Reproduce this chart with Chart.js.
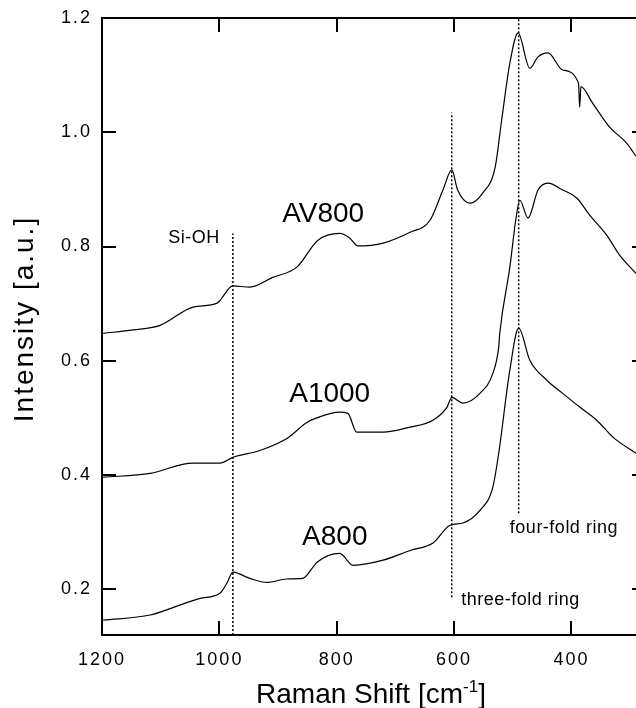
<!DOCTYPE html>
<html>
<head>
<meta charset="utf-8">
<script src="https://cdn.jsdelivr.net/npm/chart.js@4.4.0/dist/chart.umd.min.js"></script>
<style>
    html, body { margin: 0; padding: 0; background: #fff; overflow: hidden; }
    #wrap { width: 650px; height: 708px; }
</style>
</head>
<body>
<div id="wrap"><canvas id="graficoRaman" width="650" height="708"></canvas></div>
<script>
// Raman shift (cm-1) and intensity
var shiftAV800 = [1198, 1147, 1101, 1045, 1004, 977, 948, 909, 868, 832, 795, 778, 764, 721, 675, 641, 619, 604, 594, 573, 551, 530, 519, 505, 491, 471, 457, 440, 415, 388, 386, 384, 364, 335, 306, 290];
var intAV800 = [0.648, 0.654, 0.662, 0.694, 0.701, 0.731, 0.729, 0.746, 0.764, 0.811, 0.823, 0.815, 0.801, 0.806, 0.825, 0.846, 0.899, 0.934, 0.899, 0.876, 0.894, 0.939, 1.021, 1.121, 1.174, 1.112, 1.132, 1.139, 1.109, 1.086, 1.044, 1.080, 1.051, 1.009, 0.981, 0.958];

var shiftA1000 = [1198, 1118, 1045, 999, 977, 931, 885, 851, 834, 795, 781, 766, 721, 675, 636, 612, 604, 585, 556, 534, 524, 522, 505, 495, 488, 474, 457, 440, 415, 391, 369, 340, 318, 290];
var intA1000 = [0.396, 0.403, 0.421, 0.421, 0.431, 0.443, 0.464, 0.492, 0.500, 0.510, 0.508, 0.475, 0.475, 0.484, 0.496, 0.519, 0.536, 0.526, 0.543, 0.578, 0.624, 0.650, 0.764, 0.846, 0.881, 0.850, 0.899, 0.911, 0.899, 0.885, 0.855, 0.820, 0.785, 0.753];

var shiftA800 = [1198, 1118, 1079, 1033, 999, 987, 977, 948, 919, 885, 858, 841, 834, 795, 772, 721, 675, 636, 607, 585, 556, 534, 524, 505, 490, 471, 442, 415, 386, 357, 329, 290];
var intA800 = [0.146, 0.155, 0.168, 0.184, 0.193, 0.211, 0.230, 0.219, 0.212, 0.218, 0.219, 0.238, 0.247, 0.263, 0.242, 0.251, 0.268, 0.281, 0.312, 0.316, 0.338, 0.379, 0.438, 0.584, 0.657, 0.601, 0.566, 0.543, 0.519, 0.496, 0.466, 0.438];

// dotted marker lines
var markerShift = [977, 604, 490];
var markerTop = [0.823, 1.034, 1.2];
var markerBottom = [0.12, 0.186, 0.333];

// sample names
var sampleNames = ['AV800', 'A1000', 'A800'];
var sampleX = [893, 881, 859];
var sampleY = [0.843, 0.527, 0.277];

// band notes
var bandNames = ['Si-OH', 'three-fold ring', 'four-fold ring'];
var bandX = [1087, 588, 505];
var bandY = [0.806, 0.172, 0.298];

var xTicks = [1200, 1000, 800, 600, 400];
var yTicks = [0.2, 0.4, 0.6, 0.8, 1.0, 1.2];

var fonte = "'Liberation Sans', Arial, Helvetica, sans-serif";

function MontarPontos(xs, ys) {
    var pontos = [];
    var indice = 0;
    while (indice < xs.length) {
        pontos.push({ x: xs[indice], y: ys[indice] });
        indice++;
    }
    return pontos;
}

function Espectro(nome, xs, ys) {
    return {
        label: nome,
        data: MontarPontos(xs, ys),
        borderColor: '#000',
        borderWidth: 1.2,
        pointRadius: 0,
        cubicInterpolationMode: 'monotone',
        fill: false
    };
}

var datasets = [
    Espectro('AV800', shiftAV800, intAV800),
    Espectro('A1000', shiftA1000, intA1000),
    Espectro('A800', shiftA800, intA800)
];

for (var i = 0; i < markerShift.length; i++) {
    datasets.push({
        label: 'marker' + i,
        data: [{ x: markerShift[i], y: markerBottom[i] }, { x: markerShift[i], y: markerTop[i] }],
        borderColor: '#000',
        borderWidth: 1.5,
        borderDash: [2, 2],
        pointRadius: 0,
        fill: false
    });
}

var molduraPlugin = {
    id: 'moldura',
    beforeDraw: function (chart) {
        chart.ctx.letterSpacing = '2px';
    },
    afterDraw: function (chart) {
        var c = chart.ctx;
        var area = chart.chartArea;
        var sx = chart.scales.x;
        var sy = chart.scales.y;
        var tam = 14;

        c.save();
        c.letterSpacing = '0px';
        c.setLineDash([]);
        c.strokeStyle = '#000';
        c.lineWidth = 2;
        c.strokeRect(area.left, area.top, area.right - area.left, area.bottom - area.top);

        // inward tick marks on all four sides
        c.fillStyle = '#000';
        for (var a = 0; a < xTicks.length; a++) {
            var px = Math.round(sx.getPixelForValue(xTicks[a]));
            c.fillRect(px - 1, area.bottom - tam, 2, tam);
            c.fillRect(px - 1, area.top, 2, tam);
        }
        for (var b = 0; b < yTicks.length; b++) {
            var py = Math.round(sy.getPixelForValue(yTicks[b]));
            c.fillRect(area.left, py - 1, tam, 2);
            c.fillRect(area.right - tam, py - 1, tam, 2);
        }

        c.textAlign = 'left';
        c.textBaseline = 'alphabetic';

        c.font = '28px ' + fonte;
        for (var i = 0; i < sampleNames.length; i++) {
            c.fillText(sampleNames[i], sx.getPixelForValue(sampleX[i]), sy.getPixelForValue(sampleY[i]));
        }

        c.font = '18px ' + fonte;
        c.letterSpacing = '0.5px';
        for (var j = 0; j < bandNames.length; j++) {
            c.fillText(bandNames[j], sx.getPixelForValue(bandX[j]), sy.getPixelForValue(bandY[j]));
        }
        c.letterSpacing = '0px';

        // x axis title with superscript
        var cx = (area.left + area.right) / 2 - 3;
        var base = 703;
        c.font = '28px ' + fonte;
        var parte1 = 'Raman Shift [cm';
        var w1 = c.measureText(parte1).width;
        var w3 = c.measureText(']').width;
        c.font = '17px ' + fonte;
        var w2 = c.measureText('-1').width;
        var inicio = cx - (w1 + w2 + w3) / 2;
        c.font = '28px ' + fonte;
        c.fillText(parte1, inicio, base);
        c.fillText(']', inicio + w1 + w2, base);
        c.font = '17px ' + fonte;
        c.fillText('-1', inicio + w1, base - 11);

        // y axis title
        c.translate(33, 319);
        c.rotate(-Math.PI / 2);
        c.textAlign = 'center';
        c.font = '28px ' + fonte;
        c.letterSpacing = '2px';
        c.fillText('Intensity [a.u.]', 0, 0);
        c.restore();
    }
};

var ctx = document.getElementById('graficoRaman').getContext('2d');

var grafico = new Chart(ctx, {
    type: 'line',
    data: { datasets: datasets },
    options: {
        responsive: false,
        animation: false,
        parsing: false,
        layout: { padding: { top: 18, right: 4, bottom: 0, left: 0 } },
        plugins: {
            legend: { display: false },
            tooltip: { enabled: false }
        },
        scales: {
            x: {
                type: 'linear',
                reverse: true,
                min: 273,
                max: 1200,
                grid: { display: false },
                border: { display: false },
                afterFit: function (scale) { scale.height = 73; },
                afterBuildTicks: function (scale) {
                    scale.ticks = xTicks.map(function (v) { return { value: v }; });
                },
                ticks: {
                    color: '#000',
                    padding: 6,
                    maxRotation: 0,
                    font: { family: fonte, size: 18 },
                    callback: function (v) { return String(v); }
                }
            },
            y: {
                type: 'linear',
                min: 0.12,
                max: 1.2,
                grid: { display: false },
                border: { display: false },
                afterFit: function (scale) { scale.width = 102; },
                afterBuildTicks: function (scale) {
                    scale.ticks = yTicks.map(function (v) { return { value: v }; });
                },
                ticks: {
                    color: '#000',
                    padding: 2,
                    font: { family: fonte, size: 18 },
                    callback: function (v) { return v.toFixed(1); }
                }
            }
        }
    },
    plugins: [molduraPlugin]
});
</script>
</body>
</html>
